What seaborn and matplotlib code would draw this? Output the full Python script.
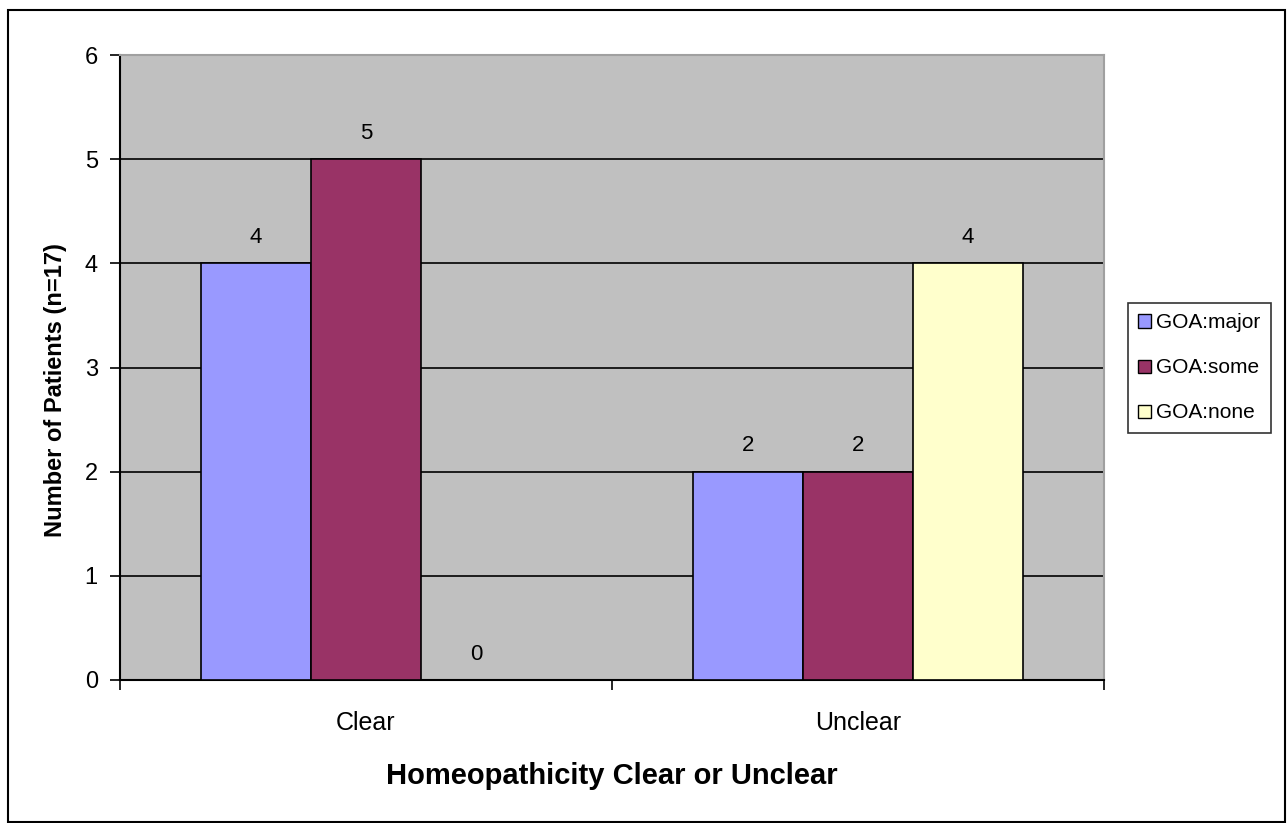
import matplotlib
matplotlib.use("Agg")
import matplotlib.pyplot as plt
import seaborn as sns
import pandas as pd
from matplotlib.patches import Rectangle

categories = ["Clear", "Unclear"]
series = ["GOA:major", "GOA:some", "GOA:none"]
values_major = [4, 2]
values_some = [5, 2]
values_none = [0, 4]
colors = ["#9999FF", "#993366", "#FFFFCC"]

rows = []
for s, vals in zip(series, [values_major, values_some, values_none]):
    for c, v in zip(categories, vals):
        rows.append({"cat": c, "series": s, "value": v})
df = pd.DataFrame(rows)

sns.set_style("white")
plt.rcParams["font.family"] = ["Liberation Sans", "DejaVu Sans"]
plt.rcParams["text.color"] = "black"
plt.rcParams["axes.labelcolor"] = "black"
plt.rcParams["xtick.color"] = "black"
plt.rcParams["ytick.color"] = "black"

fig = plt.figure(figsize=(12.87, 8.23), dpi=100)
ax = fig.add_axes([120/1287, 1-680/823, (1104-120)/1287, (680-55)/823])
ax.set_facecolor("#C0C0C0")

sns.barplot(data=df, x="cat", y="value", hue="series", palette=colors,
            saturation=1, edgecolor="black", linewidth=1.2, width=0.67, ax=ax,
            legend=False, zorder=3)

for cont in ax.containers:
    ax.bar_label(cont, padding=11, fontsize=16, color="black")

ax.set_ylim(0, 6)
ax.set_xlim(-0.5, 1.5)
ax.set_yticks(range(0, 7))
ax.yaxis.grid(True, color="black", linewidth=1.2, zorder=0)
ax.set_axisbelow(True)
ax.tick_params(axis="y", which="major", direction="out", length=7, width=1.2,
               color="black", labelsize=17, pad=9, left=True)
ax.tick_params(axis="x", which="major", length=0, labelsize=18, pad=22)
ax.set_xticks([-0.5, 0.5, 1.5], minor=True)
ax.tick_params(axis="x", which="minor", direction="out", length=7, width=1.2,
               color="black", bottom=True)

for side in ["left", "bottom"]:
    ax.spines[side].set_color("black")
    ax.spines[side].set_linewidth(1.5)
for side in ["top", "right"]:
    ax.spines[side].set_visible(True)
    ax.spines[side].set_color("#A0A0A0")
    ax.spines[side].set_linewidth(1.5)

ax.set_xlabel("Homeopathicity Clear or Unclear", fontsize=21, fontweight="bold", labelpad=20)
ax.set_ylabel("Number of Patients (n=17)", fontsize=17, fontweight="bold")
ax.yaxis.set_label_coords((67 - 120) / 984, (680 - 390) / 625)

handles = [Rectangle((0, 0), 1, 1, facecolor=c, edgecolor="black", linewidth=1) for c in colors]
leg = fig.legend(handles, series, loc="upper left",
                 bbox_to_anchor=(1128/1287, 1-303/823), frameon=True,
                 fancybox=False, fontsize=15, handlelength=0.6, handleheight=0.6,
                 handletextpad=0.25, labelspacing=1.25, borderpad=0.5,
                 borderaxespad=0)
leg.get_frame().set_edgecolor("black")
leg.get_frame().set_linewidth(1.2)
for t in leg.get_texts():
    t.set_color("black")

fig.patches.append(Rectangle((8/1287, 1/823), 1277/1287, (822-10)/823,
                             transform=fig.transFigure, fill=False,
                             edgecolor="black", linewidth=1.5))

fig.savefig("out.png", dpi=100, facecolor="white")
